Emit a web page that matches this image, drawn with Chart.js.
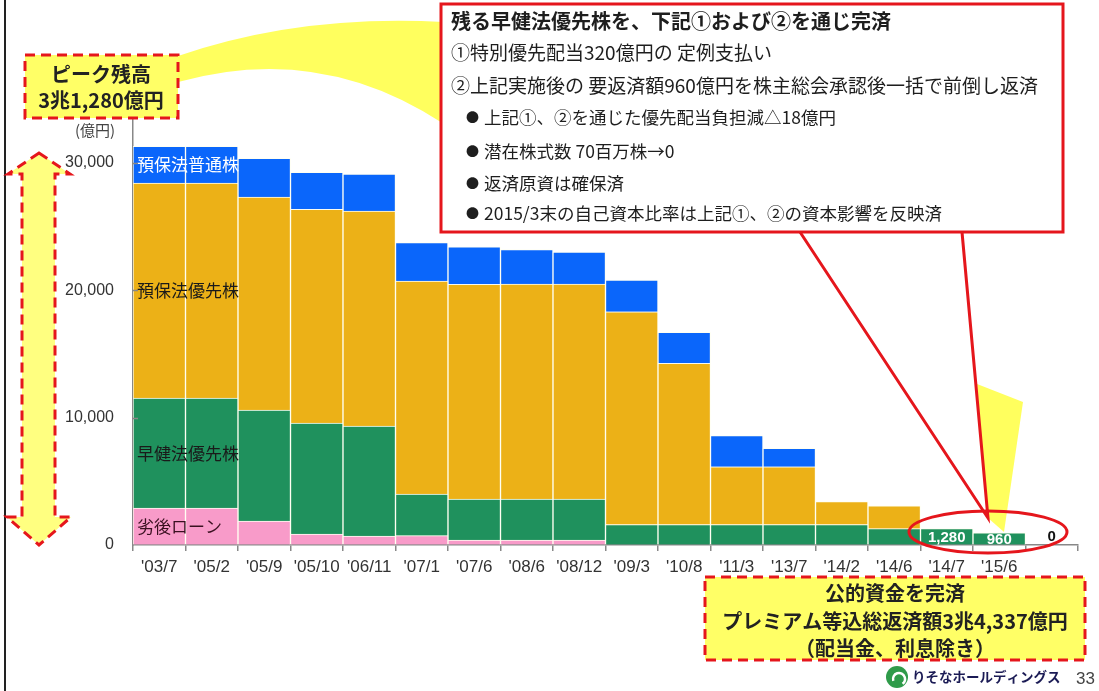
<!DOCTYPE html>
<html lang="ja">
<head>
<meta charset="utf-8">
<title>公的資金残高の推移</title>
<script src="https://cdn.jsdelivr.net/npm/chart.js@4.4.1/dist/chart.umd.min.js"></script>
<style>
  html, body { margin: 0; padding: 0; background: #fff; }
  #wrap { position: relative; width: 1099px; height: 691px; }
</style>
</head>
<body>
<div id="wrap"><canvas id="chart" width="1099" height="691"></canvas></div>
<script>
// 時点（最後の列はラベルなしで残高0を表示）
const periods = ["'03/7", "'05/2", "'05/9", "'05/10", "'06/11", "'07/1", "'07/6", "'08/6", "'08/12",
  "'09/3", "'10/8", "'11/3", "'13/7", "'14/2", "'14/6", "'14/7", "'15/6", ""];

// 残高（億円）
const subLoan    = [2900, 2900, 1880, 860, 700, 730, 390, 390, 390, 0, 0, 0, 0, 0, 0, 0, 0, 0];
const sokenPref  = [8630, 8630, 8710, 8710, 8630, 3270, 3220, 3220, 3220, 1600, 1600, 1600, 1600, 1600, 1280, 1280, 960, 0];
const yohoPref   = [16870, 16870, 16710, 16780, 16870, 16710, 16840, 16860, 16860, 16700, 12650, 4540, 4540, 1800, 1800, 0, 0, 0];
const yohoCommon = [2880, 2880, 3050, 2900, 2900, 3030, 2950, 2720, 2510, 2480, 2430, 2440, 1440, 0, 0, 0, 0, 0];

const seriesNames = ["劣後ローン", "早健法優先株", "預保法優先株", "預保法普通株"];
const seriesColors = ["#f89bc9", "#1f915d", "#ecb117", "#0a66fb"];
const seriesTextColors = ["#3a1020", "#1a1a1a", "#1a1a1a", "#ffffff"];

const yTicks = [0, 10000, 20000, 30000];
const labelledCols = [15, 16, 17];

const JP = '"Noto Sans CJK JP", "Noto Sans", sans-serif';
const LAT = '"Liberation Sans", Arial, sans-serif';
const RED = "#e5161c";

// 系列名は最初の棒の各区間の中央に置く
const seriesLabels = {
  id: "seriesLabels",
  afterDatasetsDraw(chart) {
    const ctx = chart.ctx;
    ctx.save();
    ctx.font = "17px " + JP;
    ctx.textBaseline = "middle";
    ctx.textAlign = "left";
    chart.data.datasets.forEach((ds, i) => {
      const bar = chart.getDatasetMeta(i).data[0];
      ctx.fillStyle = seriesTextColors[i];
      ctx.fillText(seriesNames[i], bar.x - bar.width / 2 + 4, (bar.y + bar.base) / 2);
    });

    // 右端3本の残高
    const meta = chart.getDatasetMeta(1);
    ctx.font = "bold 15px " + LAT;
    ctx.textAlign = "center";
    labelledCols.forEach(i => {
      const bar = meta.data[i];
      const v = sokenPref[i];
      if (v > 0) {
        ctx.fillStyle = "#fff";
        ctx.fillText(v.toLocaleString("en-US"), bar.x, (bar.y + bar.base) / 2 + 1);
      } else {
        ctx.fillStyle = "#111";
        ctx.fillText("0", bar.x, bar.base - 8);
      }
    });

    // y軸の内向き目盛
    const ys = chart.scales.y;
    ctx.strokeStyle = "#888";
    ctx.lineWidth = 1.5;
    yTicks.slice(1).forEach(v => {
      const y = Math.round(ys.getPixelForValue(v)) + 0.5;
      ctx.beginPath();
      ctx.moveTo(chart.chartArea.left, y);
      ctx.lineTo(chart.chartArea.left + 5, y);
      ctx.stroke();
    });
    ctx.restore();
  }
};

function dashedBox(ctx, x, y, w, h) {
  ctx.fillStyle = "#ffff66";
  ctx.fillRect(x, y, w, h);
  ctx.setLineDash([10, 6]);
  ctx.strokeStyle = RED;
  ctx.lineWidth = 3;
  ctx.strokeRect(x, y, w, h);
  ctx.setLineDash([]);
}

// 吹き出し・囲み・矢印など
const callouts = {
  id: "callouts",
  afterDraw(chart) {
    const ctx = chart.ctx;
    ctx.save();

    // ページ左端の罫線
    ctx.fillStyle = "#222";
    ctx.fillRect(4, 0, 2, 691);

    // ピーク残高から右の吹き出しへの黄色い帯
    ctx.fillStyle = "#ffff5e";
    ctx.beginPath();
    ctx.moveTo(178, 56);
    ctx.quadraticCurveTo(300, 14, 444, 22);
    ctx.lineTo(444, 124);
    ctx.quadraticCurveTo(320, 42, 178, 82);
    ctx.closePath();
    ctx.fill();

    // グラフ右下へ伸びる黄色い先端
    ctx.beginPath();
    ctx.moveTo(977, 384);
    ctx.lineTo(1023, 402);
    ctx.lineTo(1004, 532);
    ctx.lineTo(988, 518);
    ctx.closePath();
    ctx.fill();

    // 説明の吹き出し
    ctx.fillStyle = "#fff";
    ctx.fillRect(441, 4, 622, 228);
    ctx.strokeStyle = RED;
    ctx.lineWidth = 3;
    ctx.strokeRect(441, 4, 622, 228);
    ctx.beginPath();
    ctx.moveTo(800, 232);
    ctx.lineTo(988, 518);
    ctx.lineTo(962, 232);
    ctx.stroke();

    ctx.fillStyle = "#1e1e1e";
    ctx.textBaseline = "middle";
    ctx.textAlign = "left";
    ctx.font = "bold 20px " + JP;
    ctx.fillText("残る早健法優先株を、下記①および②を通じ完済", 451, 21);
    ctx.font = "19px " + JP;
    ctx.fillText("①特別優先配当320億円の 定例支払い", 451, 53);
    ctx.fillText("②上記実施後の 要返済額960億円を株主総会承認後一括で前倒し返済", 451, 86);
    const bullets = [
      "上記①、②を通じた優先配当負担減△18億円",
      "潜在株式数 70百万株→0",
      "返済原資は確保済",
      "2015/3末の自己資本比率は上記①、②の資本影響を反映済"
    ];
    [117, 151, 183, 213].forEach((y, i) => {
      ctx.font = "13px " + JP;
      ctx.fillText("●", 466, y);
      ctx.font = "17.5px " + JP;
      ctx.fillText(bullets[i], 484, y);
    });

    // 最終3本の楕円囲み
    ctx.strokeStyle = RED;
    ctx.lineWidth = 3;
    ctx.beginPath();
    ctx.ellipse(988, 532, 79, 21, 0, 0, Math.PI * 2);
    ctx.stroke();

    // ピーク残高の囲み
    dashedBox(ctx, 25, 55, 153, 63);
    ctx.fillStyle = "#222";
    ctx.textAlign = "center";
    ctx.font = "bold 20px " + JP;
    ctx.fillText("ピーク残高", 101, 74);
    ctx.fillText("3兆1,280億円", 101, 100);

    ctx.fillStyle = "#444";
    ctx.font = "15px " + JP;
    ctx.fillText("(億円)", 95, 130);

    // 上下の両矢印
    ctx.beginPath();
    ctx.moveTo(39, 153);
    ctx.lineTo(70, 174);
    ctx.lineTo(55, 174);
    ctx.lineTo(55, 517);
    ctx.lineTo(71, 517);
    ctx.lineTo(39, 545);
    ctx.lineTo(7, 517);
    ctx.lineTo(22, 517);
    ctx.lineTo(22, 174);
    ctx.lineTo(8, 174);
    ctx.closePath();
    ctx.fillStyle = "#ffff80";
    ctx.fill();
    ctx.setLineDash([10, 6]);
    ctx.strokeStyle = RED;
    ctx.lineWidth = 3;
    ctx.stroke();
    ctx.setLineDash([]);

    // 返済総額の囲み
    dashedBox(ctx, 705, 577, 380, 83);
    ctx.fillStyle = "#222";
    ctx.font = "bold 20px " + JP;
    ctx.fillText("公的資金を完済", 895, 593);
    ctx.fillText("プレミアム等込総返済額3兆4,337億円", 895, 621);
    ctx.fillText("（配当金、利息除き）", 895, 648);

    // ロゴとページ番号
    ctx.fillStyle = "#2f9b4a";
    ctx.beginPath();
    ctx.arc(897, 677, 11, 0, Math.PI * 2);
    ctx.fill();
    ctx.strokeStyle = "#fff";
    ctx.lineWidth = 2.5;
    ctx.beginPath();
    ctx.arc(899, 679, 6, Math.PI * 0.9, Math.PI * 2.3);
    ctx.stroke();
    ctx.fillStyle = "#1b1b55";
    ctx.textAlign = "left";
    ctx.font = "bold 13.5px " + JP;
    ctx.fillText("りそなホールディングス", 912, 677);
    ctx.fillStyle = "#444";
    ctx.font = "17px " + LAT;
    ctx.fillText("33", 1076, 679);

    ctx.restore();
  }
};

const datasets = [subLoan, sokenPref, yohoPref, yohoCommon].map((data, i) => ({
  label: seriesNames[i],
  data: data,
  backgroundColor: seriesColors[i],
  borderColor: "rgba(255,255,240,0.9)",
  borderWidth: 1,
  barPercentage: 1,
  categoryPercentage: 1
}));

new Chart(document.getElementById("chart"), {
  type: "bar",
  data: { labels: periods, datasets: datasets },
  plugins: [seriesLabels, callouts],
  options: {
    responsive: false,
    animation: false,
    devicePixelRatio: 1,
    layout: { padding: { top: 99, right: 21, left: 0, bottom: 0 } },
    plugins: { legend: { display: false }, tooltip: { enabled: false } },
    scales: {
      x: {
        stacked: true,
        grid: { display: true, drawOnChartArea: false, drawTicks: true, tickLength: 6, color: "#888", lineWidth: 1.5 },
        border: { display: true, color: "#888", width: 1.5 },
        ticks: { color: "#333", font: { family: LAT, size: 17 }, padding: 6, maxRotation: 0, autoSkip: false },
        afterFit(scale) { scale.height = 146; }
      },
      y: {
        stacked: true,
        min: 0,
        max: 35000,
        afterBuildTicks(scale) { scale.ticks = yTicks.map(v => ({ value: v })); },
        grid: { display: true, drawOnChartArea: false, drawTicks: false },
        border: { display: true, color: "#888", width: 1.5 },
        ticks: {
          color: "#333",
          font: { family: LAT, size: 16 },
          padding: 19,
          callback: v => v.toLocaleString("en-US")
        },
        afterFit(scale) { scale.width = 133; }
      }
    }
  }
});
</script>
</body>
</html>
